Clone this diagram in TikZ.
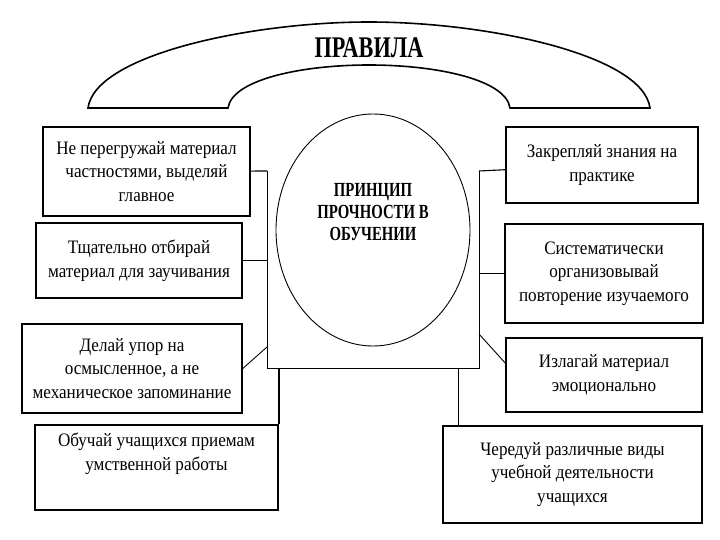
\documentclass[tikz,border=0pt]{standalone}
\usepackage{fontspec}
\setmainfont[FakeStretch=0.9]{Liberation Serif}
\newfontfamily\headfont[FakeStretch=0.74]{Liberation Serif}
\usetikzlibrary{shapes.geometric}
\tikzset{
	rulebox/.style={draw, line width=1.6pt, align=center, inner sep=0pt, font=\fontsize{19}{23.5}\selectfont},
	link/.style={line width=1.1pt},
	frame/.style={line width=0.9pt},
	heading/.style={align=center, inner sep=0pt, font=\headfont\bfseries\fontsize{20}{22}\selectfont},
}
\begin{document}
\begin{tikzpicture}[x=1pt,y=-1pt]
			\useasboundingbox (0,0) rectangle (720,540);
			\draw[line width=1.6pt] (88,108) .. controls (95,55) and (250,22) .. (369,22)
				.. controls (488,22) and (643,55) .. (650,108) -- (510,108)
				.. controls (506,80) and (438,65) .. (369,65)
				.. controls (300,65) and (232,80) .. (228,108) -- cycle;
			\node[heading, font=\headfont\bfseries\fontsize{30}{30}\selectfont] (rules) at (369,48) {ПРАВИЛА};
			\coordinate (ul) at (267,171);
			\coordinate (ll) at (267,368);
			\coordinate (lr) at (479,368);
			\coordinate (ur) at (479,171);
			\draw[frame] (ul) -- (ll) -- (lr) -- (ur);
			\node[draw, ellipse, frame, minimum width=194pt, minimum height=232pt] (oval) at (373,230) {};
			\node[heading] (principle) at (373,212) {ПРИНЦИП\\ПРОЧНОСТИ В\\ОБУЧЕНИИ};
			\node[rulebox, minimum width=207pt, minimum height=89pt] (load) at (146.5,171.5) {Не перегружай материал\\частностями, выделяй\\главное};
			\node[rulebox, minimum width=206pt, minimum height=75pt] (select) at (139,260.5) {Тщательно отбирай\\материал для заучивания};
			\node[rulebox, minimum width=220pt, minimum height=89pt] (sense) at (132,368.5) {Делай упор на\\осмысленное, а не\\механическое запоминание};
			\node[rulebox, minimum width=243pt, minimum height=85pt] (mind) at (156.5,467.5) {Обучай учащихся приемам\\умственной работы\\[8pt]};
			\node[rulebox, minimum width=192pt, minimum height=76pt] (practice) at (602,165) {Закрепляй знания на\\практике};
			\node[rulebox, minimum width=198pt, minimum height=99pt] (repeat) at (604,273.5) {Систематически\\организовывай\\повторение изучаемого};
			\node[rulebox, minimum width=196pt, minimum height=74pt] (emotion) at (604,375) {Излагай материал\\эмоционально};
			\node[rulebox, minimum width=259pt, minimum height=97pt] (alternate) at (572.5,474.5) {Чередуй различные виды\\учебной деятельности\\учащихся};
			\coordinate (sl) at (267,347);
			\coordinate (sr) at (479,334);
			\coordinate (dr) at (458,368);
			\draw[link] (load) -- (ul);
			\draw[link] (practice) -- (ur);
			\draw[link] (select.east) -- (select.east -| ul);
			\draw[link] (repeat.west) -- (repeat.west -| ur);
			\draw[frame] (sense.east) -- (sl);
			\draw[frame] (sr) -- (emotion.west |- 0,363);
			\draw[line width=1.6pt] (ll -| mind.north east) -- (mind.north east);
			\draw[frame] (dr) -- (dr |- alternate.north);
\end{tikzpicture}
\end{document}
